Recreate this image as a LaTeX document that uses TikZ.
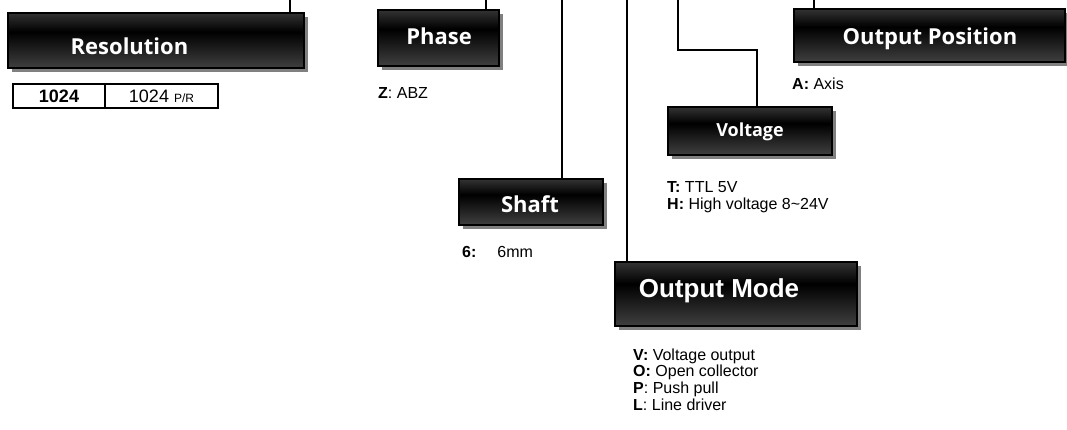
\documentclass[tikz,border=0pt]{standalone}
\usepackage{fontspec}
\setmainfont{Liberation Sans}
\newfontfamily\titlefont{Open Sans}
\usetikzlibrary{positioning,shadows}

\pgfdeclareverticalshading{codeshade}{100bp}{color(0bp)=(black!55);
  color(25bp)=(black!75); color(58bp)=(black); color(75bp)=(black!80);
  color(100bp)=(black!45)}

\begin{document}
\begin{tikzpicture}[
  x=1pt, y=-1pt,
  codebox/.style={draw=black, line width=1.6pt, inner sep=0pt, outer sep=0pt,
                  shading=codeshade,
                  drop shadow={shadow xshift=4pt, shadow yshift=-4pt,
                               fill=black!50, opacity=1}},
  boxtitle/.style={text=white, anchor=base, inner sep=0pt,
                   font=\titlefont\bfseries\fontsize{22}{22}\selectfont},
  wire/.style={line width=1.2pt, draw=black},
  cell/.style={draw=black, line width=1.2pt, minimum height=24pt, inner sep=0pt,
               outer sep=0pt, font=\fontsize{18}{18}\selectfont},
  note/.style={anchor=base west, inner sep=0pt, font=\fontsize{16}{17}\selectfont}
]
\useasboundingbox (0,0) rectangle (1067,430);

% code boxes
\node[codebox, minimum width=296pt, minimum height=55pt] (resbox) at (156,40.5) {};
\node[codebox, minimum width=121pt, minimum height=56pt] (phasebox) at (438.5,38) {};
\node[codebox, minimum width=144pt, minimum height=46pt] (shaftbox) at (531,202) {};
\node[codebox, minimum width=242pt, minimum height=64pt] (modebox) at (736,294) {};
\node[codebox, minimum width=164pt, minimum height=48pt] (voltbox) at (750,131) {};
\node[codebox, minimum width=271pt, minimum height=53pt] (posbox) at (929.5,35.5) {};

% titles
\node[boxtitle] (restitle) at (129.5,55) {Resolution};
\node[boxtitle] (phasetitle) at (439,45) {Phase};
\node[boxtitle] (shafttitle) at (530,213) {Shaft};
\node[boxtitle, font=\bfseries\fontsize{26}{26}\selectfont] (modetitle) at (719,297) {Output Mode};
\node[boxtitle, font=\titlefont\bfseries\fontsize{18}{18}\selectfont] (volttitle) at (750,137) {Voltage};
\node[boxtitle] (postitle) at (930,45) {Output Position};

% connectors from the code line above
\coordinate (restop) at (290,0);
\coordinate (phasetop) at (486,0);
\coordinate (shafttop) at (562,0);
\coordinate (modetop) at (627,0);
\coordinate (volttop) at (678,0);
\coordinate (postop) at (814,0);

\draw[wire] (restop) -- (restop |- resbox.north);
\draw[wire] (phasetop) -- (phasetop |- phasebox.north);
\draw[wire] (shafttop) -- (shafttop |- shaftbox.north);
\draw[wire] (modetop) -- (modetop |- modebox.north);
\draw[wire] (volttop) -- ++(0,50) -| ([xshift=7pt]voltbox.north);
\draw[wire] (postop) -- (postop |- posbox.north);

% resolution table
\node[cell, minimum width=92pt] (rescode) at (59,96) {\textbf{1024}};
\node[cell, minimum width=113pt, right=0pt of rescode] (resval)
  {1024 {\fontsize{12}{12}\selectfont P/R}};

% option notes
\node[note] (phasez) at (378,99) {\textbf{Z}: ABZ};
\node[note] (posa) at (792,90) {\textbf{A:} Axis};
\node[note] (shaft6) at (462,257) {\textbf{6:}\hspace{21pt}6mm};
\node[note] (voltt) at (667,193) {\textbf{T:} TTL 5V};
\node[note] (volth) at (667,210) {\textbf{H:} High voltage 8\textasciitilde 24V};

\foreach \t [count=\i from 0] in {{\textbf{V:} Voltage output},
    {\textbf{O:} Open collector}, {\textbf{P}: Push pull}, {\textbf{L}: Line driver}}
  \node[note] (mode\i) at (633,360+16.7*\i) {\t};
\end{tikzpicture}
\end{document}
